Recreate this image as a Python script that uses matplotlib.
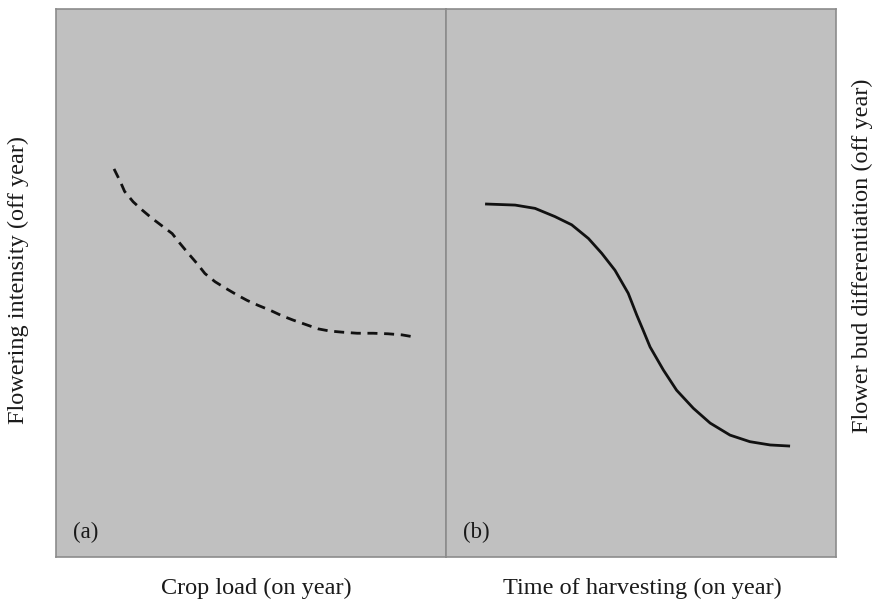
import matplotlib
matplotlib.use("Agg")
import matplotlib.pyplot as plt

# Panel (a): crop load vs flowering intensity (fractions of the panel)
crop_load = [0.150, 0.166, 0.177, 0.199, 0.222, 0.247, 0.273, 0.299, 0.319, 0.340,
             0.363, 0.383, 0.409, 0.434, 0.465, 0.491, 0.519, 0.550, 0.580, 0.609,
             0.645, 0.673, 0.703, 0.734, 0.773, 0.814, 0.852, 0.888, 0.921]
flowering = [0.708, 0.685, 0.667, 0.648, 0.633, 0.618, 0.604, 0.590, 0.572, 0.554,
             0.535, 0.517, 0.502, 0.491, 0.478, 0.468, 0.459, 0.450, 0.440, 0.432,
             0.423, 0.416, 0.412, 0.410, 0.408, 0.408, 0.407, 0.405, 0.401]

# Panel (b): time of harvesting vs flower bud differentiation
harvest_time = [0.101, 0.178, 0.229, 0.280, 0.323, 0.366, 0.400, 0.434, 0.468, 0.490,
                0.506, 0.524, 0.558, 0.592, 0.635, 0.678, 0.729, 0.780, 0.832, 0.883]
bud_diff = [0.644, 0.642, 0.636, 0.621, 0.606, 0.581, 0.554, 0.523, 0.481, 0.441,
            0.414, 0.383, 0.341, 0.304, 0.271, 0.244, 0.222, 0.210, 0.204, 0.202]

plt.rcParams['font.family'] = ['Liberation Serif', 'DejaVu Serif']

W, H = 882, 605
fig = plt.figure(figsize=(W / 100, H / 100), dpi=100)

bg = '#c0c0c0'
edge = '#8c8c8c'
bottom = (H - 556.7) / H
height = 547.7 / H
ax1 = fig.add_axes([55.5 / W, bottom, 390.2 / W, height])
ax2 = fig.add_axes([445.7 / W, bottom, 390.0 / W, height])

for ax in (ax1, ax2):
    ax.set_facecolor(bg)
    ax.set_xlim(0, 1)
    ax.set_ylim(0, 1)
    ax.set_xticks([])
    ax.set_yticks([])
    for s in ax.spines.values():
        s.set_color(edge)
        s.set_linewidth(1.2)

ax1.plot(crop_load, flowering, color='#111111', lw=2.0, dashes=(3.6, 2.4),
         solid_joinstyle='round')
ax2.plot(harvest_time, bud_diff, color='#111111', lw=2.0,
         solid_joinstyle='round', solid_capstyle='butt')

ax1.text(0.045, 0.045, '(a)', fontsize=16.5, va='center', ha='left', color='#1a1a1a')
ax2.text(0.045, 0.045, '(b)', fontsize=16.5, va='center', ha='left', color='#1a1a1a')

fs = 17.5
fig.text(256.7 / W, 1 - 588 / H, 'Crop load (on year)', fontsize=fs,
         ha='center', va='center', color='#1a1a1a')
fig.text(642 / W, 1 - 588 / H, 'Time of harvesting (on year)', fontsize=fs,
         ha='center', va='center', color='#1a1a1a')
fig.text(18 / W, 1 - 280 / H, 'Flowering intensity (off year)', fontsize=fs,
         ha='center', va='center', rotation=90, color='#1a1a1a')
fig.text(862 / W, 1 - 256 / H, 'Flower bud differentiation (off year)', fontsize=fs,
         ha='center', va='center', rotation=90, color='#1a1a1a')

fig.savefig('out.png', dpi=100, facecolor='white')
